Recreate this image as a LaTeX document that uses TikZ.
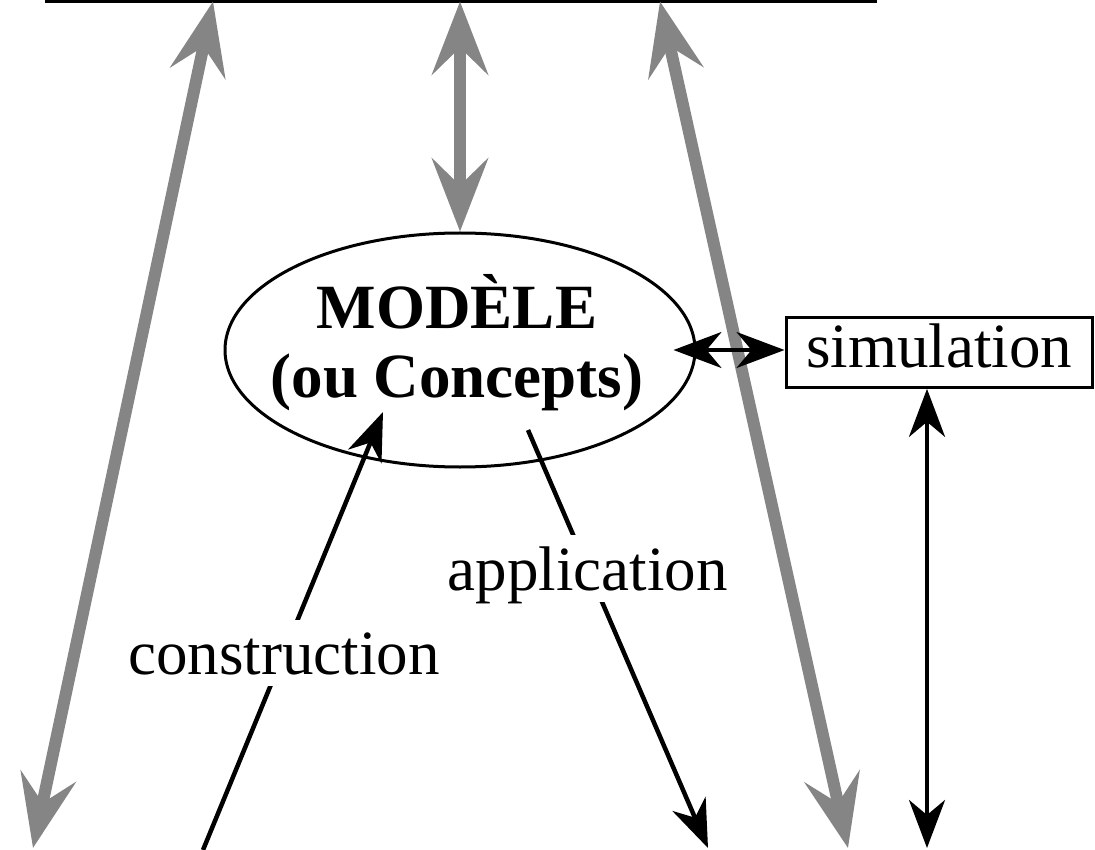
\documentclass[tikz,border=0pt]{standalone}
\usepackage{fontspec}
\setmainfont{Liberation Serif}
\usepackage{tikz}
\usetikzlibrary{positioning,shapes.geometric,arrows.meta,calc}
\definecolor{linkgray}{RGB}{133,133,133}

\tikzset{
    graytip/.tip={Stealth[length=73pt,width=56pt,inset=27pt]},
    blacktip/.tip={Stealth[length=48pt,width=36pt,inset=15pt]},
    bigtext/.style={font=\fontsize{63}{69}\selectfont},
    graylink/.style={draw=linkgray, line width=12pt},
    blacklink/.style={draw=black, line width=4.5pt},
    linklabel/.style={bigtext, fill=white, inner xsep=6pt, inner ysep=12pt, text depth=0pt}
}

\begin{document}
\begin{tikzpicture}[x=1pt, y=-1pt]
    \clip (0,0) rectangle (1095,850);

    % box at the top (only its lower edge shows)
    \node[draw, line width=3.5pt, outer sep=0pt, minimum width=828pt, minimum height=60pt, anchor=south] (top) at (461,1.5) {};

    % model and simulation
    \node[draw, ellipse, line width=3pt, minimum width=470pt, minimum height=234pt, inner sep=0pt] (model) at (460,350) {};
    \node[font=\fontsize{63}{69}\selectfont\bfseries, align=center, anchor=base] (modeltext) at ($(model.center)+(-3,47)$) {MODÈLE\\(ou Concepts)};
    \node[draw, line width=3pt, bigtext, minimum width=306pt, text depth=14pt, inner ysep=6pt] (sim) at (939,352.5) {simulation};

    % loose ends at the bottom
    \coordinate (grayleft) at (33,848);
    \coordinate (grayright) at (848,848);
    \coordinate (conbottom) at (203,850);
    \coordinate (appbottom) at (708,848);
    \coordinate (simbottom) at (927,848);

    % gray links to the top box
    \draw[graylink, graytip-graytip] ([xshift=166pt]top.south west) -- (grayleft);
    \draw[graylink, graytip-graytip] (model.north |- top.south) -- (model.north);
    \draw[graylink, graytip-graytip] ([xshift=613pt]top.south west) -- (grayright);

    % black links
    \draw[blacklink, line width=3.5pt, blacktip-blacktip, shorten <=-23pt] (model.east) -- (model.east -| sim.west);
    \draw[blacklink, blacktip-blacktip] (simbottom |- sim.south) -- (simbottom);
    \draw[blacklink, -blacktip] (conbottom) -- node[linklabel, pos=0.449] (conlabel) {construction} ($(model.center)+(-77,62)$);
    \draw[blacklink, -blacktip] ($(model.center)+(68,80)$) -- node[linklabel, pos=0.331] (applabel) {application} (appbottom);
\end{tikzpicture}
\end{document}
